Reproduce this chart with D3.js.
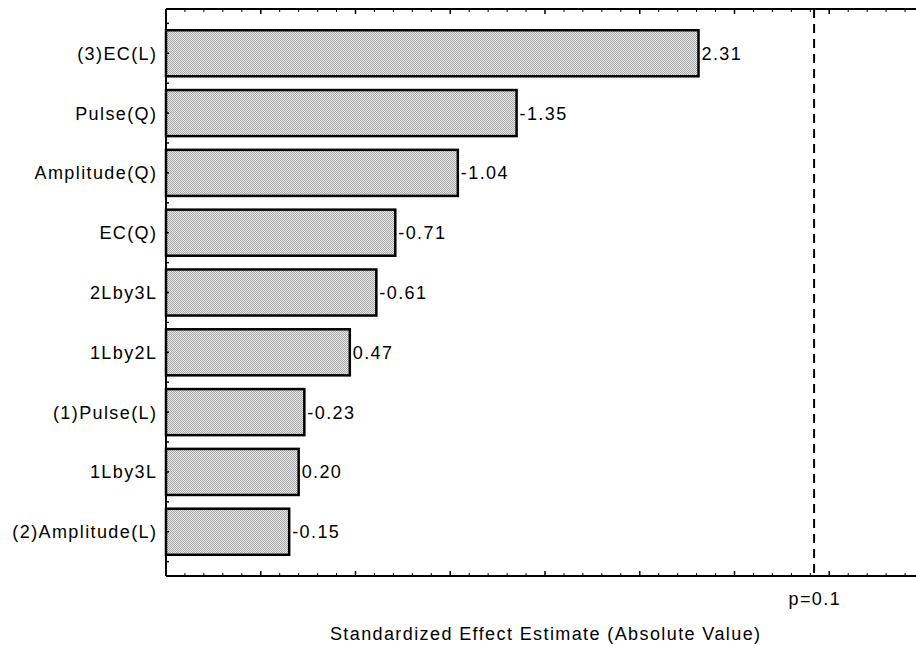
<!DOCTYPE html>
<html>
<head>
<meta charset="utf-8">
<script src="https://cdn.jsdelivr.net/npm/d3@7"></script>
<style>
  html, body { margin: 0; padding: 0; background: #fff; }
  svg { display: block; font-family: "Liberation Sans", Arial, sans-serif; }
  text { font-size: 18px; letter-spacing: 1.4px; fill: #000; }
</style>
</head>
<body>
<svg id="chart" width="916" height="646"></svg>
<script>
// Pareto chart of standardized effects (absolute t values), sorted largest first
const factors = ["(3)EC(L)", "Pulse(Q)", "Amplitude(Q)", "EC(Q)", "2Lby3L",
                 "1Lby2L", "(1)Pulse(L)", "1Lby3L", "(2)Amplitude(L)"];
const effects = [2.31, -1.35, -1.04, -0.71, -0.61, 0.47, -0.23, 0.20, -0.15];
const effectLabels = ["2.31", "-1.35", "-1.04", "-0.71", "-0.61", "0.47", "-0.23", "0.20", "-0.15"];
const criticalValue = 2.92;      // t threshold drawn as the dashed reference line
const criticalLabel = ["p=0.1"];
const axisDomain = [-0.5, 3.5];
const xTitle = ["Standardized Effect Estimate (Absolute Value)"];

const svg = d3.select("#chart");
const plotLeft = 166, plotRight = 924, plotTop = 9, plotBottom = 576;
const spacing = 1.4; // trailing letter-spacing, compensated on end-anchored text

const x = d3.scaleLinear().domain(axisDomain).range([plotLeft, plotRight]);
const y = d3.scaleBand().domain(factors).range([plotTop, plotBottom])
  .paddingInner(0.23).paddingOuter(0.355);

// dotted gray fill for the bars
const defs = svg.append("defs");
const pat = defs.append("pattern").attr("id", "dots")
  .attr("patternUnits", "userSpaceOnUse").attr("width", 2).attr("height", 2);
pat.append("rect").attr("width", 2).attr("height", 2).attr("fill", "#e8e8e8");
pat.append("rect").attr("width", 1).attr("height", 1).attr("fill", "#a8a8a8");
pat.append("rect").attr("x", 1).attr("y", 1).attr("width", 1).attr("height", 1).attr("fill", "#a8a8a8");

// bars
svg.append("g").selectAll("rect").data(factors).join("rect")
  .attr("x", x(axisDomain[0]))
  .attr("y", d => y(d))
  .attr("width", (d, i) => x(Math.abs(effects[i])) - x(axisDomain[0]))
  .attr("height", y.bandwidth())
  .attr("fill", "url(#dots)")
  .attr("stroke", "#000").attr("stroke-width", 2.5);

// value labels at bar ends
svg.append("g").selectAll("text").data(factors).join("text")
  .attr("x", (d, i) => x(Math.abs(effects[i])) + 3)
  .attr("y", d => y(d) + y.bandwidth() / 2)
  .attr("dy", "0.36em")
  .text((d, i) => effectLabels[i]);

// category labels
svg.append("g").selectAll("text").data(factors).join("text")
  .attr("x", plotLeft - 10 + spacing)
  .attr("y", d => y(d) + y.bandwidth() / 2)
  .attr("dy", "0.36em")
  .attr("text-anchor", "end")
  .text(d => d);

// axis frame lines and inward ticks
const frame = svg.append("g").attr("stroke", "#000");
const majors = d3.range(axisDomain[0], axisDomain[1] + 1e-9, 0.5);
const minors = d3.range(axisDomain[0], axisDomain[1] + 1e-9, 0.1)
  .filter(v => Math.abs(v * 2 - Math.round(v * 2)) > 1e-6);

function hAxis(yPos, dir) {
  frame.append("line").attr("x1", plotLeft).attr("x2", plotRight)
    .attr("y1", yPos).attr("y2", yPos).attr("stroke-width", 2);
  frame.selectAll(null).data(majors).join("line")
    .attr("x1", d => x(d)).attr("x2", d => x(d))
    .attr("y1", yPos).attr("y2", yPos + dir * 5).attr("stroke-width", 1.5);
  frame.selectAll(null).data(minors).join("line")
    .attr("x1", d => x(d)).attr("x2", d => x(d))
    .attr("y1", yPos).attr("y2", yPos + dir * 3).attr("stroke-width", 1);
}
hAxis(plotTop, 1);
hAxis(plotBottom, -1);

frame.append("line").attr("x1", plotLeft).attr("x2", plotLeft)
  .attr("y1", plotTop).attr("y2", plotBottom).attr("stroke-width", 2);
// ticks at category centers and between categories
const yTicks = [];
factors.forEach(f => {
  const c = y(f) + y.bandwidth() / 2;
  yTicks.push(c - y.step() / 2, c);
});
yTicks.push(y(factors[factors.length - 1]) + y.bandwidth() / 2 + y.step() / 2);
frame.selectAll(null).data(yTicks.filter(v => v > plotTop + 2 && v < plotBottom - 2)).join("line")
  .attr("x1", plotLeft).attr("x2", plotLeft + 3)
  .attr("y1", d => d).attr("y2", d => d).attr("stroke-width", 1.5);

// critical value reference line
svg.append("line")
  .attr("x1", x(criticalValue)).attr("x2", x(criticalValue))
  .attr("y1", plotTop).attr("y2", plotBottom)
  .attr("stroke", "#000").attr("stroke-width", 2)
  .attr("stroke-dasharray", "9,6");

svg.append("text")
  .attr("x", x(criticalValue) + spacing / 2).attr("y", 605)
  .attr("text-anchor", "middle").text(criticalLabel[0]);

svg.append("text")
  .attr("x", 545 + spacing / 2).attr("y", 640)
  .attr("text-anchor", "middle").text(xTitle[0]);
</script>
</body>
</html>
